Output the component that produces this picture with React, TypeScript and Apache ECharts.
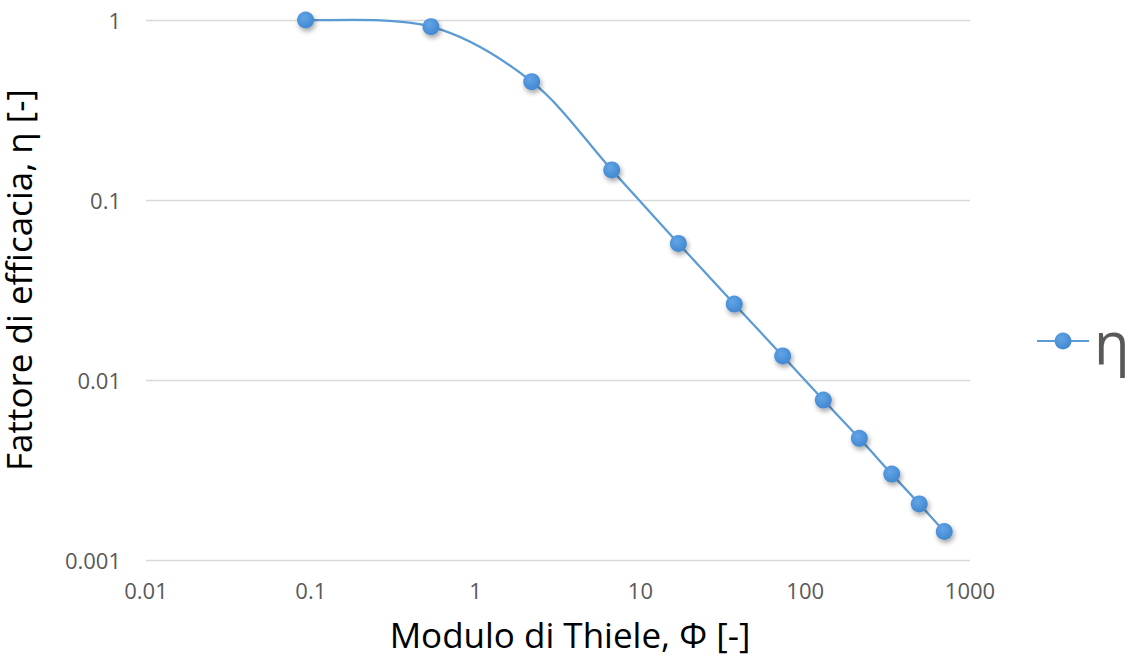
import React, { useEffect, useRef } from "react";
import * as echarts from "echarts";

// Thiele modulus (x) and effectiveness factor (y)
const thieleModulus = [0.093, 0.536, 2.19, 6.7, 17.0, 37.1, 73.0, 128.8, 213, 335, 492, 698];
const effectiveness = [1.0, 0.918, 0.454, 0.147, 0.0574, 0.0264, 0.0136, 0.00774, 0.00474, 0.003, 0.00205, 0.00144];

const xTickLabels = ["0.01", "0.1", "1", "10", "100", "1000"];
const yTickLabels = ["0.001", "0.01", "0.1", "1"];

const seriesName = "η";
const xTitle = "Modulo di Thiele, Φ [-]";
const yTitle = "Fattore di efficacia, η [-]";

const FONT = "'Open Sans', 'Liberation Sans', sans-serif";
const LABEL_COLOR = "#595959";
const BLUE = "#5b9bd5";

// Cardinal (Catmull-Rom) spline through the projected points
function smoothPath(pts: number[][]): string {
  if (!pts.length) return "";
  let d = `M${pts[0][0]},${pts[0][1]}`;
  for (let i = 0; i < pts.length - 1; i++) {
    const p0 = pts[i - 1] || pts[i];
    const p1 = pts[i];
    const p2 = pts[i + 1];
    const p3 = pts[i + 2] || p2;
    const c1x = p1[0] + (p2[0] - p0[0]) / 6;
    const c1y = p1[1] + (p2[1] - p0[1]) / 6;
    const c2x = p2[0] - (p3[0] - p1[0]) / 6;
    const c2y = p2[1] - (p3[1] - p1[1]) / 6;
    d += ` C${c1x},${c1y} ${c2x},${c2y} ${p2[0]},${p2[1]}`;
  }
  return d;
}

export default function App() {
  const ref = useRef<HTMLDivElement>(null);

  useEffect(() => {
    if (!ref.current) return;
    const chart = echarts.init(ref.current, undefined, { renderer: "svg" });

    const points = thieleModulus.map((x, i) => [x, effectiveness[i]]);

    chart.setOption({
      animation: false,
      backgroundColor: "#ffffff",
      textStyle: { fontFamily: FONT },
      grid: {
        left: 146,
        right: 159,
        top: 20,
        bottom: 97,
        containLabel: false,
        outerBoundsMode: "none",
      },
      legend: {
        data: [seriesName],
        left: 1036,
        top: 306,
        padding: 0,
        itemWidth: 52,
        itemHeight: 21,
        itemGap: 3,
        lineStyle: { color: BLUE, width: 2, opacity: 1 },
        textStyle: {
          fontFamily: FONT,
          fontSize: 58,
          color: LABEL_COLOR,
          lineHeight: 70,
        },
      },
      xAxis: {
        type: "log",
        logBase: 10,
        min: 0.01,
        max: 1000,
        name: xTitle,
        nameLocation: "middle",
        nameGap: 57,
        nameTextStyle: {
          fontFamily: FONT,
          fontSize: 35,
          color: "#000000",
          padding: [0, 0, 0, 24],
        },
        axisLine: { show: false },
        axisTick: { show: false },
        splitLine: { show: false },
        axisLabel: {
          fontFamily: FONT,
          fontSize: 22,
          color: LABEL_COLOR,
          margin: 19,
          formatter: (v: number) => xTickLabels[Math.round(Math.log10(v)) + 2] ?? "",
        },
      },
      yAxis: {
        type: "log",
        logBase: 10,
        min: 0.001,
        max: 1,
        name: yTitle,
        nameLocation: "middle",
        nameRotate: 90,
        nameGap: 110,
        nameTextStyle: {
          fontFamily: FONT,
          fontSize: 35,
          lineHeight: 35,
          color: "#000000",
          padding: [0, 0, 0, 20],
        },
        axisLine: { show: false },
        axisTick: { show: false },
        splitLine: { show: true, lineStyle: { color: "#d9d9d9", width: 1.3 } },
        axisLabel: {
          fontFamily: FONT,
          fontSize: 22,
          color: LABEL_COLOR,
          margin: 25,
          formatter: (v: number) => yTickLabels[Math.round(Math.log10(v)) + 3] ?? "",
        },
      },
      series: [
        {
          // smoothed connecting curve
          type: "custom",
          silent: true,
          z: 2,
          data: [points[0]],
          renderItem: (_params: any, api: any) => {
            const px = points.map((p) => api.coord(p));
            return {
              type: "path",
              shape: { pathData: smoothPath(px) },
              style: { fill: "none", stroke: BLUE, lineWidth: 2.25 },
            };
          },
        },
        {
          name: seriesName,
          type: "line",
          z: 3,
          data: points,
          symbol: "circle",
          symbolSize: 17,
          lineStyle: { color: BLUE, width: 0, opacity: 0 },
          itemStyle: {
            color: new echarts.graphic.RadialGradient(0.4, 0.35, 0.7, [
              { offset: 0, color: "#63a4e6" },
              { offset: 1, color: "#3f86cf" },
            ]),
            borderWidth: 0,
            shadowBlur: 5,
            shadowOffsetX: 1.5,
            shadowOffsetY: 3,
            shadowColor: "rgba(0,0,0,0.35)",
          },
        },
      ],
    });

    return () => chart.dispose();
  }, []);

  return (
    <div
      ref={ref}
      style={{ position: "fixed", left: 0, top: 0, width: 1129, height: 657 }}
    />
  );
}
